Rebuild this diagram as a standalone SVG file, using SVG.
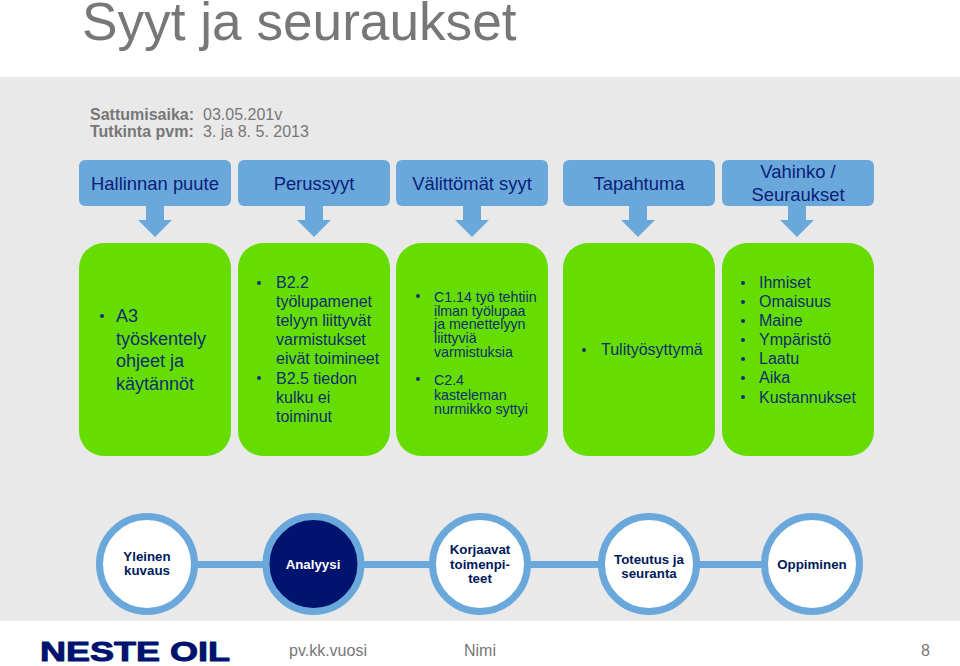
<svg xmlns="http://www.w3.org/2000/svg" width="960" height="666" viewBox="0 0 960 666">
<style>
text{font-family:"Liberation Sans",Arial,sans-serif}
.hd{font-size:18.4px;fill:#0a2078;text-anchor:middle}
.hb{fill:#6aa8dc}
.gb{fill:#66dd00}
.body{font-size:16px;fill:#0f2f6e}
.big{font-size:18px;fill:#0f2f6e}
.sm{font-size:14.2px;fill:#0f2f6e}
.blt{fill:#0f2f6e}
.cir{fill:#fff;stroke:#6aa8dc;stroke-width:7}
.ct{font-size:13.3px;font-weight:bold;fill:#001a5c;text-anchor:middle}
.foot{font-size:16px;fill:#777}
.meta{font-size:16px;fill:#777}
</style>
<rect width="960" height="666" fill="#fff"/>
<rect y="77" width="960" height="544" fill="#e9e9e9"/>
<text x="82" y="39.500" font-size="53.2" fill="#777">Syyt ja seuraukset</text>
<g id="meta">
<text x="90" y="120" class="meta" font-weight="bold">Sattumisaika:</text>
<text x="203" y="120" class="meta">03.05.201v</text>
<text x="90" y="137" class="meta" font-weight="bold">Tutkinta pvm:</text>
<text x="203" y="137" class="meta">3. ja 8. 5. 2013</text>
</g>
<g id="connectors">
<path class="hb" d="M146 205h18v15h8l-17 17-17-17h8z"/>
<path class="hb" d="M305 205h18v15h8l-17 17-17-17h8z"/>
<path class="hb" d="M463 205h18v15h8l-17 17-17-17h8z"/>
<path class="hb" d="M629 205h18v15h8l-17 17-17-17h8z"/>
<path class="hb" d="M788 205h18v15h8l-17 17-17-17h8z"/>
<path d="M162 564.500H764" stroke="#6aa8dc" stroke-width="7" fill="none"/>
</g>
<g id="h1"><rect class="hb" x="79" y="160" width="152" height="46" rx="6"/><text class="hd" x="155" y="190">Hallinnan puute</text></g>
<g id="h2"><rect class="hb" x="238" y="160" width="152" height="46" rx="6"/><text class="hd" x="314" y="190">Perussyyt</text></g>
<g id="h3"><rect class="hb" x="396" y="160" width="152" height="46" rx="6"/><text class="hd" x="472" y="190">Välittömät syyt</text></g>
<g id="h4"><rect class="hb" x="563" y="160" width="152" height="46" rx="6"/><text class="hd" x="639" y="190">Tapahtuma</text></g>
<g id="h5"><rect class="hb" x="722" y="160" width="152" height="46" rx="6"/><text class="hd" x="798" y="178">Vahinko /</text><text class="hd" x="798" y="201">Seuraukset</text></g>
<g id="b1"><rect class="gb" x="79" y="243" width="152" height="213" rx="25"/>
<circle class="blt" cx="102" cy="316" r="2"/>
<text class="big" x="116" y="322">A3</text><text class="big" x="116" y="345">työskentely</text><text class="big" x="116" y="367">ohjeet ja</text><text class="big" x="116" y="390">käytännöt</text></g>
<g id="b2"><rect class="gb" x="238" y="243" width="152" height="213" rx="25"/>
<circle class="blt" cx="259" cy="283" r="2"/><circle class="blt" cx="259" cy="378" r="2"/>
<text class="body" x="276" y="288">B2.2</text><text class="body" x="276" y="307">työlupamenet</text><text class="body" x="276" y="326">telyyn liittyvät</text><text class="body" x="276" y="345">varmistukset</text><text class="body" x="276" y="364">eivät toimineet</text><text class="body" x="276" y="384">B2.5 tiedon</text><text class="body" x="276" y="403">kulku ei</text><text class="body" x="276" y="422">toiminut</text></g>
<g id="b3"><rect class="gb" x="396" y="243" width="152" height="213" rx="25"/>
<circle class="blt" cx="418" cy="296" r="2"/><circle class="blt" cx="418" cy="379" r="2"/>
<text class="sm" x="434" y="302">C1.14 työ tehtiin</text><text class="sm" x="434" y="316">ilman työlupaa</text><text class="sm" x="434" y="329">ja menettelyyn</text><text class="sm" x="434" y="343">liittyviä</text><text class="sm" x="434" y="357">varmistuksia</text><text class="sm" x="434" y="385">C2.4</text><text class="sm" x="434" y="400">kasteleman</text><text class="sm" x="434" y="414">nurmikko syttyi</text></g>
<g id="b4"><rect class="gb" x="563" y="243" width="152" height="213" rx="25"/>
<circle class="blt" cx="584" cy="350" r="2"/><text class="body" x="601" y="355">Tulityösyttymä</text></g>
<g id="b5"><rect class="gb" x="722" y="243" width="152" height="213" rx="25"/>
<g class="blt"><circle cx="743" cy="283" r="2"/><circle cx="743" cy="302" r="2"/><circle cx="743" cy="321" r="2"/><circle cx="743" cy="340" r="2"/><circle cx="743" cy="359" r="2"/><circle cx="743" cy="378" r="2"/><circle cx="743" cy="397" r="2"/></g>
<text class="body" x="759" y="288">Ihmiset</text><text class="body" x="759" y="307">Omaisuus</text><text class="body" x="759" y="326">Maine</text><text class="body" x="759" y="345">Ympäristö</text><text class="body" x="759" y="364">Laatu</text><text class="body" x="759" y="383">Aika</text><text class="body" x="759" y="403">Kustannukset</text></g>
<g id="c1"><circle class="cir" cx="147" cy="564" r="47.500"/><text class="ct" x="147" y="561">Yleinen</text><text class="ct" x="147" y="575">kuvaus</text></g>
<g id="c2"><circle class="cir" cx="313.500" cy="564" r="47.500" style="fill:#00136e"/><text class="ct" x="313" y="569" style="fill:#fff">Analyysi</text></g>
<g id="c3"><circle class="cir" cx="480" cy="564" r="47.500"/><text class="ct" x="480" y="554">Korjaavat</text><text class="ct" x="480" y="569">toimenpi-</text><text class="ct" x="480" y="583">teet</text></g>
<g id="c4"><circle class="cir" cx="649" cy="564" r="47.500"/><text class="ct" x="649" y="564">Toteutus ja</text><text class="ct" x="649" y="578">seuranta</text></g>
<g id="c5"><circle class="cir" cx="812" cy="564" r="47.500"/><text class="ct" x="812" y="569">Oppiminen</text></g>
<g id="footer">
<text x="40" y="661" font-size="28" font-weight="bold" fill="#00136e" stroke="#00136e" stroke-width="1" stroke-linejoin="round" textLength="190" lengthAdjust="spacingAndGlyphs" style="font-family:'Liberation Sans',sans-serif">NESTE OIL</text>
<text class="foot" x="289" y="656">pv.kk.vuosi</text>
<text class="foot" x="464" y="656">Nimi</text>
<text class="foot" x="921" y="656">8</text>
</g>
</svg>
